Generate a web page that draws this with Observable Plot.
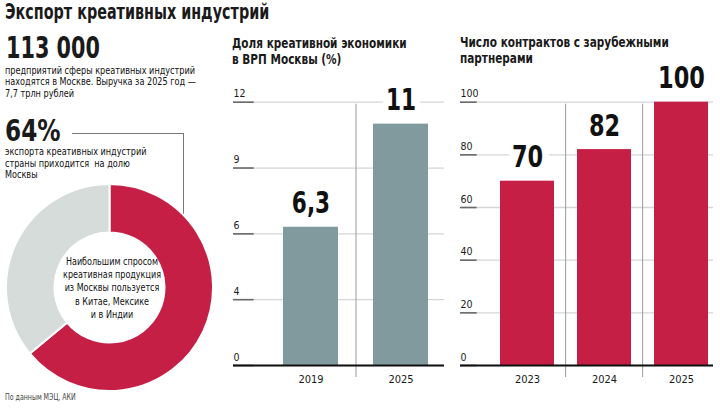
<!DOCTYPE html>
<html lang="ru">
<head>
<meta charset="utf-8">
<script src="https://cdn.jsdelivr.net/npm/d3@7"></script>
<script src="https://cdn.jsdelivr.net/npm/@observablehq/plot@0.6"></script>
<style>
  body { margin: 0; background: #fff; }
  #page {
    position: relative; width: 720px; height: 410px; overflow: hidden;
    font-family: "Liberation Sans Narrow", "DejaVu Sans Condensed", "Roboto", sans-serif;
    color: #1a1a1a;
  }
  .abs { position: absolute; white-space: nowrap; transform-origin: 0 0; }
  .title { left: 5px; top: 1.4px; font-size: 22px; font-weight: bold; line-height: 22px; transform: scaleX(0.725); }
  .big { font-size: 30px; font-weight: bold; line-height: 30px; }
  .body { font-size: 10.5px; line-height: 11.5px; transform: scaleX(0.86); color: #111; }
  .head { font-size: 13.5px; font-weight: bold; line-height: 16.7px; transform: scaleX(0.865); }
  .center { font-size: 10.5px; line-height: 13.3px; text-align: center; width: 150px;
    transform-origin: 50% 0; transform: scaleX(0.85); color: #111; }
  .source { left: 5px; top: 391.5px; font-size: 8.5px; color: #444; transform: scaleX(0.82); }
  .connector { left: 72px; top: 133px; width: 111px; height: 82px; transform: none;
    border-top: 1px solid #777; border-right: 1px solid #777; }
  svg { position: absolute; overflow: visible; }
</style>
</head>
<body>
<div id="page">
  <div class="abs title">Экспорт креативных индустрий</div>

  <div class="abs big" style="left:6px; top:32.9px; transform: scaleX(0.77);">113 000</div>
  <div class="abs body" style="left:5px; top:64.6px;">предприятий сферы креативных индустрий<br>находятся в Москве. Выручка за 2025 год —<br>7,7 трлн рублей</div>

  <div class="abs connector"></div>
  <div class="abs big" style="left:5px; top:116.3px; transform: scaleX(0.86);">64%</div>
  <div class="abs body" style="left:5px; top:146.3px;">экспорта креативных индустрий<br>страны приходится&nbsp; на долю<br>Москвы</div>

  <div id="donut"></div>
  <div class="abs center" style="left:37px; top:254.7px;">Наибольшим спросом<br>креативная продукция<br>из Москвы пользуется<br>в Китае, Мексике<br>и в Индии</div>

  <div class="abs head" style="left:232px; top:34.7px;">Доля креативной экономики<br>в ВРП Москвы (%)</div>
  <div class="abs head" style="left:460px; top:33.7px;">Число контрактов с зарубежными<br>партнерами</div>

  <div id="share"></div>
  <div id="contracts"></div>

  <div class="abs source">По данным МЭЦ, АКИ</div>
</div>

<script>
// Share of the creative economy in Moscow's GRP, %
const shareYears = ["2019", "2025"];
const shareValues = [6.3, 11];
const shareTicks = [0, 3, 6, 9, 12];
const shareTickLabels = ["0", "4", "6", "9", "12"];

// Contracts with foreign partners
const contractYears = ["2023", "2024", "2025"];
const contractValues = [70, 82, 100];
const contractTicks = [0, 20, 40, 60, 80, 100];
const contractTickLabels = ["0", "20", "40", "60", "80", "100"];

// Moscow's share of the country's creative-industry exports, %
const exportParts = ["Москва", "Другие регионы"];
const exportValues = [64, 36];

const RED = "#c51f45";
const TEAL = "#819a9d";
const LIGHT = "#d5dcd9";
const FONT = '"Liberation Sans Narrow", "DejaVu Sans Condensed", "Roboto", sans-serif';
const VALUE_SIZE = 30;

const formatValue = (v) => String(v).replace(".", ",");

function barChart({years, values, ticks, tickLabels, fill, left, width, marginLeft, marginRight, xRange, padding, tickLength}) {
  const data = years.map((year, i) => ({year, value: values[i]}));
  const height = 320;
  const frameWidth = width - marginLeft - marginRight;
  const step = (xRange[1] - xRange[0]) / years.length;
  const top = d3.max(ticks);
  const chart = Plot.plot({
    width, height,
    marginTop: 31.7, marginBottom: 25, marginLeft, marginRight,
    style: {fontFamily: FONT, background: "transparent", color: "#1a1a1a", overflow: "visible"},
    x: {domain: years, range: xRange, paddingInner: padding, paddingOuter: padding / 2},
    y: {domain: [0, top], axis: null},
    marks: [
      // light gridlines with a short dark tick on the left
      Plot.ruleY(ticks, {stroke: "#d6d6d6", strokeWidth: 1.3}),
      Plot.ruleY(ticks, {stroke: "#6a6a6a", strokeWidth: 1.6, insetRight: frameWidth - tickLength}),
      Plot.text(ticks, {
        y: (d) => d, text: (d, i) => tickLabels[i],
        frameAnchor: "left", textAnchor: "start", lineAnchor: "bottom",
        dy: -5, fontSize: 10.5, fill: "#1a1a1a"
      }),
      // separators between year columns
      Plot.ruleX(years.slice(1), {
        x: (d) => d, y1: top, y2: 0, dx: -step / 2,
        insetTop: 2, insetBottom: -12, stroke: "#9a9a9a", strokeWidth: 1
      }),
      Plot.barY(data, {x: "year", y: "value", fill}),
      Plot.text(data, {
        x: "year", y: "value", text: (d) => formatValue(d.value),
        lineAnchor: "bottom", dy: -14, fontSize: VALUE_SIZE, fontWeight: "bold",
        fill: "#111", stroke: "white", strokeWidth: 16
      }),
      Plot.ruleY([0], {stroke: "#111", strokeWidth: 2}),
      Plot.axisX({tickSize: 0, tickPadding: 10, fontSize: 11, label: null})
    ]
  });
  chart.style.left = left + "px";
  chart.style.top = "70px";
  return chart;
}

// narrow the big value labels, the way a condensed typeface would set them
function condenseValues(chart, factor) {
  d3.select(chart).selectAll(`g[font-size="${VALUE_SIZE}"] text`).each(function () {
    const w = this.getComputedTextLength();
    this.setAttribute("textLength", (w * factor).toFixed(1));
    this.setAttribute("lengthAdjust", "spacingAndGlyphs");
  });
}

const share = barChart({
  years: shareYears, values: shareValues, ticks: shareTicks, tickLabels: shareTickLabels,
  fill: TEAL, left: 220, width: 230, marginLeft: 13, marginRight: 6,
  xRange: [45, 225], padding: 0.392, tickLength: 20.7
});
document.getElementById("share").append(share);
condenseValues(share, 0.8);

const contracts = barChart({
  years: contractYears, values: contractValues, ticks: contractTicks, tickLabels: contractTickLabels,
  fill: RED, left: 450, width: 270, marginLeft: 10, marginRight: 7,
  xRange: [37.3, 270.4], padding: 0.296, tickLength: 16.7
});
document.getElementById("contracts").append(contracts);
condenseValues(contracts, 0.83);

// Donut: Moscow's share of exports, drawn clockwise from twelve o'clock
const donut = Plot.plot({
  width: 220, height: 215, margin: 0,
  style: {background: "transparent", overflow: "visible"},
  marks: [
    () => {
      const cx = 109.5, cy = 107.5, outer = 103.5, inner = 55;
      const slices = d3.pie().sort(null)(exportValues);
      const colors = [RED, LIGHT];
      const arc = d3.arc().innerRadius(inner).outerRadius(outer);
      const g = d3.create("svg:g").attr("transform", `translate(${cx},${cy})`);
      g.selectAll("path").data(slices).join("path")
        .attr("d", arc)
        .attr("fill", (d, i) => colors[i])
        .attr("stroke", "white")
        .attr("stroke-width", 2)
        .append("title").text((d, i) => `${exportParts[i]}: ${exportValues[i]}%`);
      return g.node();
    }
  ]
});
donut.style.left = "0px";
donut.style.top = "180px";
document.getElementById("donut").append(donut);
</script>
</body>
</html>
